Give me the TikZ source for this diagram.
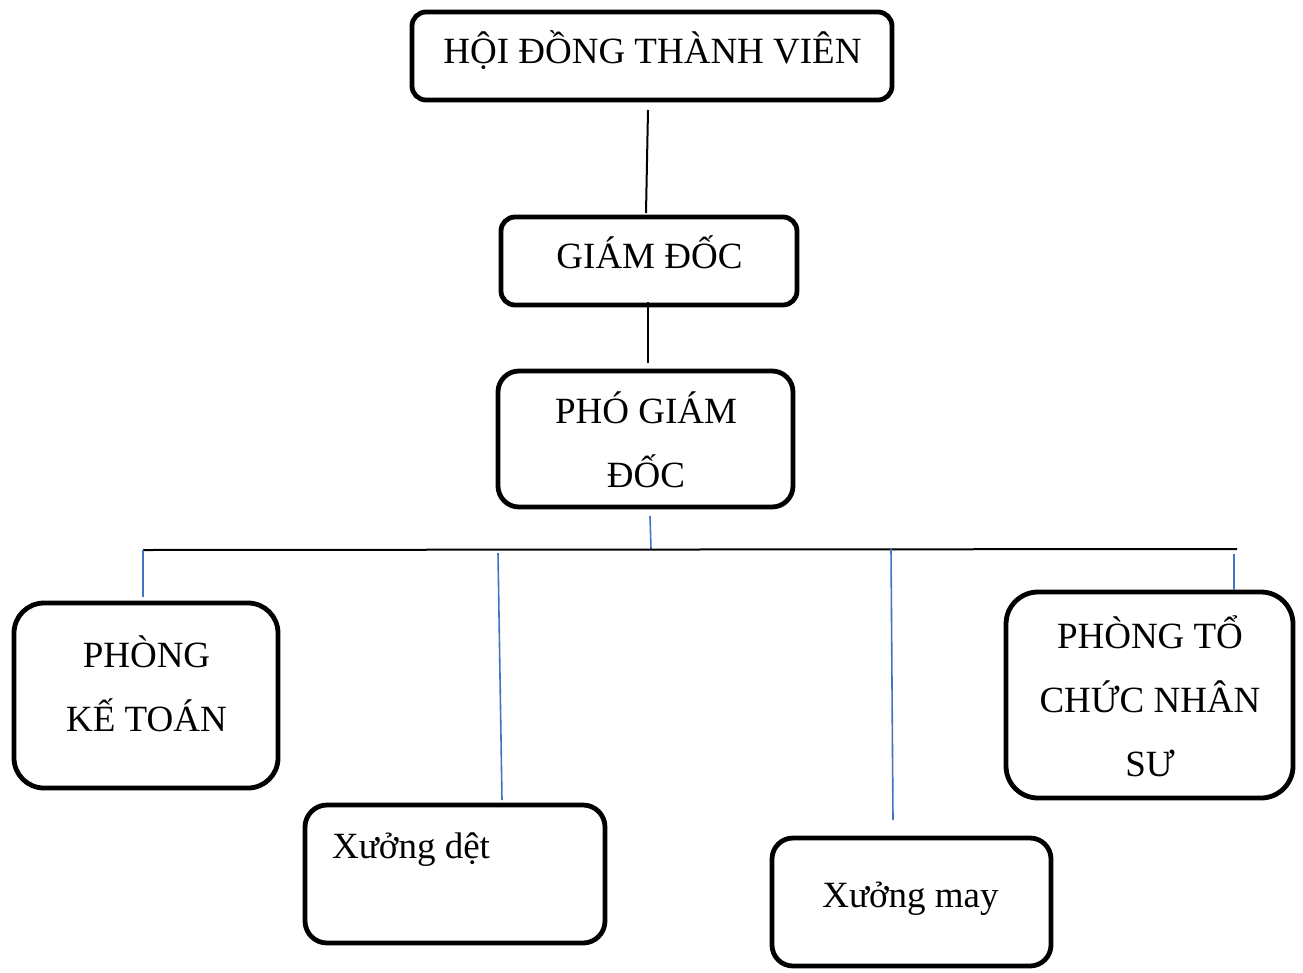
\documentclass[tikz,border=0pt]{standalone}
\usepackage{fontspec}
\setmainfont{Liberation Serif}
\usetikzlibrary{calc}
\definecolor{linkblue}{HTML}{4472C4}
\tikzset{
  orgbox/.style={draw=black, line width=4.8pt, rectangle, inner sep=0pt, outer sep=0pt},
  orgtext/.style={anchor=base, inner sep=0pt, align=center,
    font=\fontsize{37}{64}\selectfont},
  blackline/.style={draw=black, line width=2pt},
  blueline/.style={draw=linkblue, line width=1.6pt},
}
\begin{document}
\begin{tikzpicture}[x=1pt, y=-1pt]
\useasboundingbox (0,0) rectangle (1303,972);

% boxes
\node[orgbox, rounded corners=14pt, minimum width=480pt, minimum height=88pt] (hdtv) at (652,56) {};
\node[orgbox, rounded corners=14pt, minimum width=296pt, minimum height=88pt] (gd) at (649,261) {};
\node[orgbox, rounded corners=21pt, minimum width=295pt, minimum height=136pt] (pgd) at (645.5,439) {};
\node[orgbox, rounded corners=30pt, minimum width=264pt, minimum height=185pt] (kt) at (146,695.5) {};
\node[orgbox, rounded corners=22pt, minimum width=300pt, minimum height=138pt] (det) at (455,874) {};
\node[orgbox, rounded corners=21pt, minimum width=279pt, minimum height=128pt] (may) at (911.5,902) {};
\node[orgbox, rounded corners=32pt, minimum width=287pt, minimum height=206pt] (tcns) at (1149.5,695) {};

% labels (base anchor sits on the last line of a multi-line label)
\node[orgtext] (thdtv) at (652.5,63) {HỘI ĐỒNG THÀNH VIÊN};
\node[orgtext] (tgd) at (649.5,268) {GIÁM ĐỐC};
\node[orgtext] (tpgd) at (646,487) {PHÓ GIÁM\\ĐỐC};
\node[orgtext] (tkt) at (146.5,731) {PHÒNG\\KẾ TOÁN};
\node[orgtext, anchor=base west] (tdet) at (332,858) {Xưởng dệt};
\node[orgtext] (tmay) at (910.5,907) {Xưởng may};
\node[orgtext] (ttcns) at (1150,776) {PHÒNG TỔ\\CHỨC NHÂN\\SƯ};

% bus line under the deputy director
\coordinate (busL) at (143,550);
\coordinate (busR) at (1237,549);
\coordinate (busMid) at (651,549);
\coordinate (busDet) at (498,553);
\coordinate (busMay) at (891,549);
\coordinate (busTc) at (1234,554);

% connectors
\draw[blackline] ([xshift=-4pt,yshift=-10pt]hdtv.south) -- ([xshift=-3pt,yshift=4pt]gd.north);
\draw[blackline] ([xshift=-1pt,yshift=3pt]gd.south) -- ([xshift=2.5pt,yshift=8pt]pgd.north);
\draw[blueline] ([xshift=4.5pt,yshift=-9pt]pgd.south) -- (busMid);
\draw[blackline] (busL) -- (busR);
\draw[blueline] (busL) -- ([xshift=-3pt,yshift=6pt]kt.north);
\draw[blueline] (busDet) -- ([xshift=47pt,yshift=5pt]det.north);
\draw[blueline] (busMay) -- ([xshift=-18.5pt,yshift=18pt]may.north);
\draw[blueline] (busTc) -- ([xshift=84.5pt,yshift=2pt]tcns.north);
\end{tikzpicture}
\end{document}
